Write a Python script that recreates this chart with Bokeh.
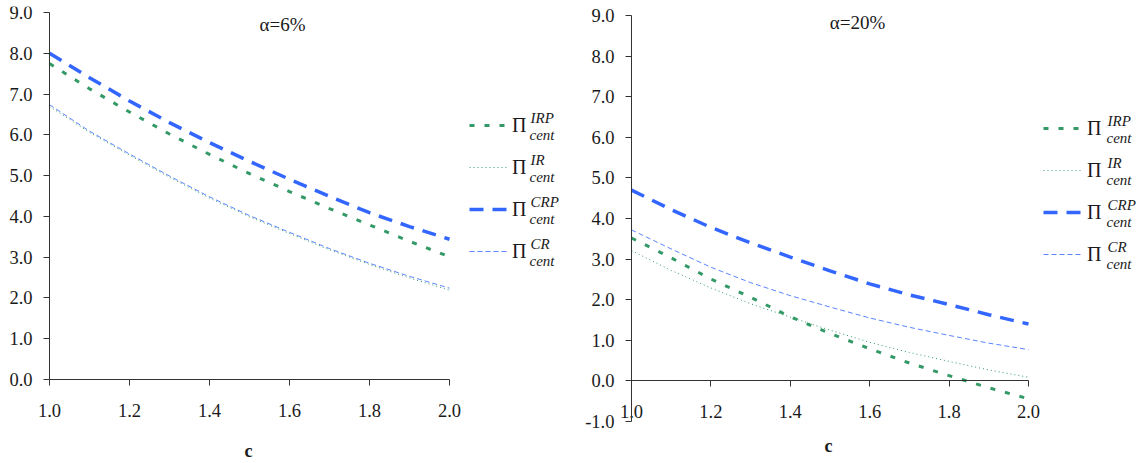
from bokeh.plotting import figure
from bokeh.models import (Range1d, FixedTicker, NumeralTickFormatter, Legend,
                          LegendItem, Label)
from bokeh.layouts import row
from bokeh.embed import file_html
from bokeh.resources import INLINE

# ---------------- data ----------------
c_values = [1.0, 1.1, 1.2, 1.3, 1.4, 1.5, 1.6, 1.7, 1.8, 1.9, 2.0]

# alpha = 6%
irp_6 = [7.75, 7.13, 6.56, 6.02, 5.52, 5.05, 4.61, 4.19, 3.79, 3.39, 3.01]
ir_6 = [6.70, 6.06, 5.50, 4.96, 4.45, 3.99, 3.58, 3.18, 2.82, 2.49, 2.19]
crp_6 = [8.00, 7.40, 6.83, 6.30, 5.81, 5.35, 4.91, 4.49, 4.09, 3.75, 3.44]
cr_6 = [6.74, 6.09, 5.53, 4.99, 4.48, 4.02, 3.61, 3.21, 2.85, 2.53, 2.24]

# alpha = 20%
irp_20 = [3.52, 3.03, 2.51, 2.06, 1.58, 1.17, 0.79, 0.44, 0.13, -0.17, -0.44]
ir_20 = [3.21, 2.72, 2.29, 1.90, 1.57, 1.25, 0.95, 0.70, 0.48, 0.27, 0.09]
crp_20 = [4.70, 4.22, 3.78, 3.40, 3.05, 2.71, 2.39, 2.12, 1.88, 1.63, 1.40]
cr_20 = [3.72, 3.25, 2.80, 2.42, 2.10, 1.82, 1.55, 1.32, 1.12, 0.93, 0.77]

x_ticks = [1.0, 1.2, 1.4, 1.6, 1.8, 2.0]
y_ticks_6 = [0, 1, 2, 3, 4, 5, 6, 7, 8, 9]
y_ticks_20 = [-1, 0, 1, 2, 3, 4, 5, 6, 7, 8, 9]
series_sup = ["IRP", "IR", "CRP", "CR"]
titles = ["\u03b1=6%", "\u03b1=20%"]
x_label = "c"

GREEN = "#339966"
BLUE = "#3366FF"
TXT = "#1a1a1a"
SERIF = "Liberation Serif"

styles = [
    dict(line_color=GREEN, line_width=3, line_dash="5 10"),   # IRP
    dict(line_color=GREEN, line_width=1, line_dash="1 3"),    # IR
    dict(line_color=BLUE, line_width=3.5, line_dash="14 9"),  # CRP
    dict(line_color=BLUE, line_width=1, line_dash="5 3", line_alpha=0.8),  # CR
]

HEIGHT = 463
FRAME_TOP = 6
ITEM_H = 24
ITEM_SP = 18


def make_panel(series, title, width, axis_px, axis_py_top, px_per_x, px_per_y,
               y_axis_lo, y_ticks, legend_left, legend_first_center, glyph_w,
               sup_left, title_pos, c_pos):
    """The frame covers the canvas below FRAME_TOP; both axes are drawn at fixed
    places. axis_px: canvas x of c=1.0; axis_py_top: canvas y of value 9.0."""
    frame_h = HEIGHT - FRAME_TOP
    x_start = 1.0 - axis_px / px_per_x
    x_end = x_start + width / px_per_x
    y_hi = 9.0 + (axis_py_top - FRAME_TOP) / px_per_y
    y_lo = y_hi - frame_h / px_per_y

    p = figure(width=width, height=HEIGHT, output_backend="svg",
               toolbar_location=None, x_range=Range1d(x_start, x_end),
               y_range=Range1d(y_lo, y_hi),
               min_border_left=0, min_border_right=0,
               min_border_top=FRAME_TOP, min_border_bottom=0)
    p.outline_line_color = None
    p.grid.visible = False

    for ax in (p.xaxis[0], p.yaxis[0]):
        ax.axis_line_color = "#333333"
        ax.major_tick_line_color = "#333333"
        ax.major_tick_out = 6
        ax.major_tick_in = 0
        ax.minor_tick_line_color = None
        ax.major_label_text_font = SERIF
        ax.major_label_text_font_size = "18.5px"
        ax.major_label_text_color = TXT

    p.xaxis.ticker = FixedTicker(ticks=x_ticks)
    p.xaxis.formatter = NumeralTickFormatter(format="0.0")
    p.xaxis.bounds = (1.0, 2.0)
    p.xaxis.fixed_location = 0
    p.xaxis.major_label_standoff = 18
    p.yaxis.ticker = FixedTicker(ticks=y_ticks)
    p.yaxis.formatter = NumeralTickFormatter(format="0.0")
    p.yaxis.bounds = (y_axis_lo, 9.0)
    p.yaxis.fixed_location = 1.0
    p.yaxis.major_label_standoff = 11

    renderers = [p.line(c_values, vals, **st) for vals, st in zip(series, styles)]

    # canvas pixel -> data helpers for annotation placement
    def dx(px):
        return x_start + px / px_per_x

    def dy(py):
        return y_hi - (py - FRAME_TOP) / px_per_y

    legend_top = legend_first_center - ITEM_H / 2
    legend_h = 4 * ITEM_H + 3 * ITEM_SP
    items = [LegendItem(label="\u03a0", renderers=[r]) for r in renderers]
    legend = Legend(items=items,
                    location=(legend_left, HEIGHT - (legend_top + legend_h)),
                    glyph_width=glyph_w, glyph_height=ITEM_H, label_height=ITEM_H,
                    spacing=ITEM_SP, padding=0, margin=0, label_standoff=4,
                    label_text_font=SERIF, label_text_font_size="20px",
                    label_text_color=TXT,
                    border_line_color=None, background_fill_alpha=0)
    p.add_layout(legend, "center")

    pitch = ITEM_H + ITEM_SP
    for i, sup in enumerate(series_sup):
        center = legend_first_center + i * pitch
        p.add_layout(Label(x=dx(sup_left), y=dy(center - 8), text=sup,
                           text_font=SERIF, text_font_style="italic",
                           text_font_size="15px", text_baseline="middle",
                           text_color=TXT))
        p.add_layout(Label(x=dx(sup_left - 1), y=dy(center + 9), text="cent",
                           text_font=SERIF, text_font_style="italic",
                           text_font_size="15px", text_baseline="middle",
                           text_color=TXT))

    p.add_layout(Label(x=dx(title_pos[0]), y=dy(title_pos[1]), text=title,
                       text_font=SERIF, text_font_size="19px", text_align="center",
                       text_baseline="middle", text_color=TXT))
    p.add_layout(Label(x=dx(c_pos[0]), y=dy(c_pos[1]), text=x_label, text_font=SERIF,
                       text_font_style="bold", text_font_size="18px",
                       text_align="center", text_baseline="middle",
                       text_color=TXT))
    return p


# left panel: canvas x 0..573, c=1 at x=49 (2.0 at 449); 9.0 at y=12, 0.0 at y=379
p1 = make_panel([irp_6, ir_6, crp_6, cr_6], titles[0], width=573,
                axis_px=49, axis_py_top=12, px_per_x=400.0, px_per_y=367 / 9,
                y_axis_lo=0.0, y_ticks=y_ticks_6, legend_left=469,
                legend_first_center=125, glyph_w=39, sup_left=530,
                title_pos=(282, 24), c_pos=(248, 450))

# right panel: canvas x 573..1141, c=1 at page x=631; 9.0 at y=15, -1.0 at y=421
p2 = make_panel([irp_20, ir_20, crp_20, cr_20], titles[1], width=568,
                axis_px=631 - 573, axis_py_top=15, px_per_x=397.0, px_per_y=40.6,
                y_axis_lo=-1.0, y_ticks=y_ticks_20, legend_left=1043 - 573,
                legend_first_center=128, glyph_w=40, sup_left=1107 - 573,
                title_pos=(857 - 573, 22), c_pos=(828 - 573, 445))

layout = row(p1, p2)
open("out.html", "w").write(file_html(layout, INLINE))
